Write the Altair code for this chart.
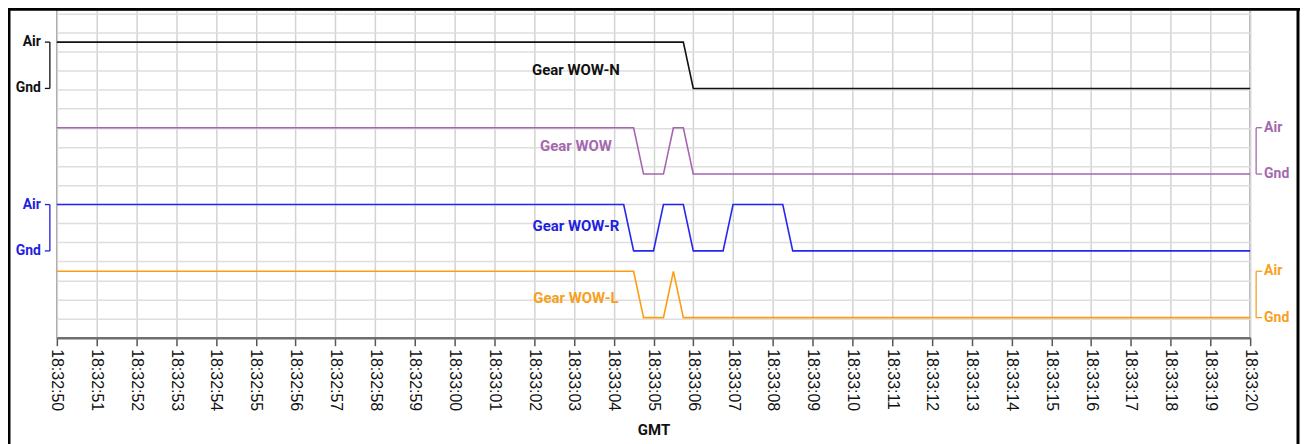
import altair as alt
import pandas as pd

# ---------------- data ----------------
TICK_LABELS = [
    "18:32:50", "18:32:51", "18:32:52", "18:32:53", "18:32:54", "18:32:55",
    "18:32:56", "18:32:57", "18:32:58", "18:32:59", "18:33:00", "18:33:01",
    "18:33:02", "18:33:03", "18:33:04", "18:33:05", "18:33:06", "18:33:07",
    "18:33:08", "18:33:09", "18:33:10", "18:33:11", "18:33:12", "18:33:13",
    "18:33:14", "18:33:15", "18:33:16", "18:33:17", "18:33:18", "18:33:19",
    "18:33:20",
]

SIGNALS = ["Gear WOW-N", "Gear WOW", "Gear WOW-R", "Gear WOW-L"]
LINE_COLORS = ["#111111", "#a466ae", "#2626f2", "#ff9c12"]
TEXT_COLORS = ["#111111", "#a468ae", "#1f1fe0", "#f7a01e"]
SIDES = ["left", "right", "left", "right"]
GND_LEVEL = [13.07, 8.58, 4.55, 1.05]   # track baselines, in grid-line units
SPAN = 2.43                              # Air - Gnd distance
NAME_SHIFT = [-0.26, 0.26, 0.10, -0.18]  # name placement relative to mid-track

N_TIME = ["18:32:50", "18:33:05.75", "18:33:06", "18:33:20"]
N_STATE = ["Air", "Air", "Gnd", "Gnd"]

WOW_TIME = ["18:32:50", "18:33:04.5", "18:33:04.75", "18:33:05.25",
            "18:33:05.5", "18:33:05.75", "18:33:06", "18:33:20"]
WOW_STATE = ["Air", "Air", "Gnd", "Gnd", "Air", "Air", "Gnd", "Gnd"]

R_TIME = ["18:32:50", "18:33:04.25", "18:33:04.5", "18:33:05", "18:33:05.25",
          "18:33:05.75", "18:33:06", "18:33:06.75", "18:33:07", "18:33:08.25",
          "18:33:08.5", "18:33:20"]
R_STATE = ["Air", "Air", "Gnd", "Gnd", "Air", "Air", "Gnd", "Gnd", "Air",
           "Air", "Gnd", "Gnd"]

L_TIME = ["18:32:50", "18:33:04.5", "18:33:04.75", "18:33:05.25",
          "18:33:05.5", "18:33:05.75", "18:33:20"]
L_STATE = ["Air", "Air", "Gnd", "Gnd", "Air", "Gnd", "Gnd"]

LABEL_TIME = "18:33:03.05"
DAY = "2024-01-01"

COND = "Roboto, Liberation Sans, sans-serif"
SANS = "Liberation Sans, Arial, sans-serif"


def iso(t):
    ts = pd.Timestamp(f"{DAY} {t}")
    return ts.strftime("%Y-%m-%dT%H:%M:%S.%f")[:-3]


def dt(t):
    h, m, s = t.split(":")
    return alt.DateTime(year=2024, month=1, date=1, hours=int(h),
                        minutes=int(m), seconds=int(s))


# ---------------- tables ----------------
rows = []
for i, (times, states) in enumerate([(N_TIME, N_STATE), (WOW_TIME, WOW_STATE),
                                     (R_TIME, R_STATE), (L_TIME, L_STATE)]):
    for t, s in zip(times, states):
        rows.append({
            "signal": SIGNALS[i],
            "time": iso(t),
            "y": GND_LEVEL[i] + (SPAN if s == "Air" else 0.0),
            "color": LINE_COLORS[i],
        })
lines_df = pd.DataFrame(rows)

tracks_df = pd.DataFrame({
    "signal": SIGNALS,
    "time": [iso(LABEL_TIME)] * 4,
    "y": [g + SPAN / 2 + d for g, d in zip(GND_LEVEL, NAME_SHIFT)],
    "yg": GND_LEVEL,
    "ya": [g + SPAN for g in GND_LEVEL],
    "color": TEXT_COLORS,
    "side": SIDES,
})

lev = []
for i in range(4):
    for s, off in (("Air", SPAN), ("Gnd", 0.0)):
        lev.append({"state": s, "y": GND_LEVEL[i] + off,
                    "color": TEXT_COLORS[i], "side": SIDES[i]})
levels_df = pd.DataFrame(lev)

W, H = 1197, 329

xscale = alt.Scale(domain=[dt(TICK_LABELS[0]), dt(TICK_LABELS[-1])], nice=False)
yscale = alt.Scale(domain=[0, 17.2], nice=False, zero=False)

xaxis = alt.Axis(
    values=[dt(t) for t in TICK_LABELS], format="%H:%M:%S",
    labelAngle=90, labelAlign="left", labelBaseline="middle",
    labelFont=SANS, labelFontSize=16, labelColor="#111111", labelPadding=3,
    labelFlush=False, labelOverlap=False,
    tickSize=8, tickColor="#555555", tickWidth=1.5,
    domainColor="#6e6e6e", domainWidth=2.5,
    grid=True, gridColor="#d3d3d3", gridWidth=1.5,
    title="GMT", titleFont=COND, titleFontSize=15, titleFontWeight="bold",
    titleColor="#111111", titlePadding=12,
)
yaxis = alt.Axis(values=list(range(18)), grid=True, gridColor="#dedede",
                 gridWidth=1.5, labels=False, ticks=False, domain=False,
                 title=None)

X = alt.X("time:T", scale=xscale, axis=xaxis)
Y = alt.Y("y:Q", scale=yscale, axis=yaxis)

lines = alt.Chart(lines_df).mark_line(strokeWidth=1.6).encode(
    x=X, y=Y, color=alt.Color("color:N", scale=None), detail="signal:N")

names = alt.Chart(tracks_df).mark_text(
    font=COND, fontSize=15, fontWeight="bold", align="center",
    baseline="middle").encode(
    x=X, y=Y, text="signal:N", color=alt.Color("color:N", scale=None))

left_lab = alt.Chart(levels_df).transform_filter(
    alt.datum.side == "left").mark_text(
    font=COND, fontSize=14, fontWeight="bold", align="right",
    baseline="middle").encode(
    x=alt.value(-16), y=Y, text="state:N", color=alt.Color("color:N", scale=None))

right_lab = alt.Chart(levels_df).transform_filter(
    alt.datum.side == "right").mark_text(
    font=COND, fontSize=14, fontWeight="bold", align="left",
    baseline="middle").encode(
    x=alt.value(W + 14), y=Y, text="state:N", color=alt.Color("color:N", scale=None))

left_br = alt.Chart(tracks_df).transform_filter(
    alt.datum.side == "left").mark_rule(strokeWidth=1.3).encode(
    x=alt.value(-7), y=alt.Y("yg:Q", scale=yscale, axis=yaxis), y2="ya:Q",
    color=alt.Color("color:N", scale=None))
right_br = alt.Chart(tracks_df).transform_filter(
    alt.datum.side == "right").mark_rule(strokeWidth=1.3).encode(
    x=alt.value(W + 6), y=alt.Y("yg:Q", scale=yscale, axis=yaxis), y2="ya:Q",
    color=alt.Color("color:N", scale=None))

left_tk = alt.Chart(levels_df).transform_filter(
    alt.datum.side == "left").mark_rule(strokeWidth=1.3).encode(
    x=alt.value(-12), x2=alt.value(-7), y=Y,
    color=alt.Color("color:N", scale=None))
right_tk = alt.Chart(levels_df).transform_filter(
    alt.datum.side == "right").mark_rule(strokeWidth=1.3).encode(
    x=alt.value(W + 6), x2=alt.value(W + 12), y=Y,
    color=alt.Color("color:N", scale=None))

frame_df = pd.DataFrame({"k": [0]})
frame_left = alt.Chart(frame_df).mark_rule(color="black", strokeWidth=3).encode(
    x=alt.value(-48), y=alt.value(-2), y2=alt.value(H + 120))
frame_right = alt.Chart(frame_df).mark_rule(color="black", strokeWidth=3).encode(
    x=alt.value(1245), y=alt.value(-2), y2=alt.value(H + 120))
frame_top = alt.Chart(frame_df).mark_rule(color="black", strokeWidth=3).encode(
    x=alt.value(-50), x2=alt.value(1247), y=alt.value(-0.5))

chart = alt.layer(
    lines, names, left_lab, right_lab, left_br, right_br, left_tk, right_tk,
    frame_left, frame_right, frame_top,
).properties(
    width=W, height=H,
    autosize=alt.AutoSizeParams(type="none"),
    padding={"left": 49, "top": 1, "right": 50, "bottom": 110},
    background="white",
).configure_view(stroke="#8c8c8c", strokeWidth=1.5)

chart.save("out.html", embed_options={"renderer": "svg", "actions": False})
